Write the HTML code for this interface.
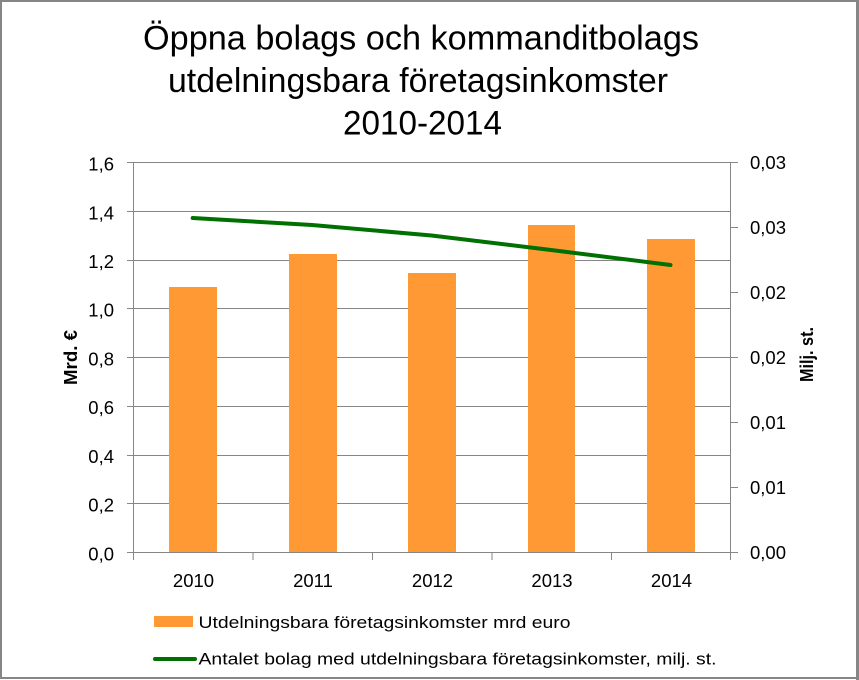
<!DOCTYPE html>
<html><head><meta charset="utf-8"><style>
html,body{margin:0;padding:0;background:#fff;}
svg{display:block;}
text{font-family:"Liberation Sans",Arial,sans-serif;fill:#000;}
</style></head><body>
<svg width="859" height="680" viewBox="0 0 859 680" xmlns="http://www.w3.org/2000/svg">
<rect x="0" y="0" width="859" height="680" fill="#fff"/>
<!-- outer border -->
<rect x="1" y="1" width="856" height="677" fill="none" stroke="#868686" stroke-width="2"/>
<line x1="857.5" y1="0" x2="857.5" y2="680" stroke="#868686" stroke-width="3"/>

<!-- title -->
<text x="143" y="49.5" font-size="34" textLength="556" lengthAdjust="spacingAndGlyphs">Öppna bolags och kommanditbolags</text>
<text x="168" y="92" font-size="34" textLength="500" lengthAdjust="spacingAndGlyphs">utdelningsbara företagsinkomster</text>
<text x="343" y="134.5" font-size="34" textLength="159" lengthAdjust="spacingAndGlyphs">2010-2014</text>

<!-- gridlines -->
<g stroke="#868686" stroke-width="1">
<line x1="127" y1="162.5" x2="731" y2="162.5"/>
<line x1="127" y1="211.5" x2="731" y2="211.5"/>
<line x1="127" y1="260.5" x2="731" y2="260.5"/>
<line x1="127" y1="308.5" x2="731" y2="308.5"/>
<line x1="127" y1="357.5" x2="731" y2="357.5"/>
<line x1="127" y1="406.5" x2="731" y2="406.5"/>
<line x1="127" y1="455.5" x2="731" y2="455.5"/>
<line x1="127" y1="503.5" x2="731" y2="503.5"/>
</g>

<!-- bars -->
<g fill="#ff9933">
<rect x="169" y="287" width="48" height="266"/>
<rect x="289" y="254" width="48" height="299"/>
<rect x="408" y="273" width="48" height="280"/>
<rect x="528" y="225" width="47" height="328"/>
<rect x="647" y="239" width="48" height="314"/>
</g>

<!-- axes -->
<g stroke="#868686" stroke-width="1">
<line x1="133.5" y1="162" x2="133.5" y2="560"/>
<line x1="730.5" y1="162" x2="730.5" y2="560"/>
<line x1="127" y1="552.5" x2="731" y2="552.5"/>
<line x1="253" y1="553" x2="253" y2="560"/>
<line x1="372.5" y1="553" x2="372.5" y2="560"/>
<line x1="492" y1="553" x2="492" y2="560"/>
<line x1="611.5" y1="553" x2="611.5" y2="560"/>
<line x1="730" y1="162.5" x2="738" y2="162.5"/>
<line x1="730" y1="227.5" x2="738" y2="227.5"/>
<line x1="730" y1="292.5" x2="738" y2="292.5"/>
<line x1="730" y1="357.5" x2="738" y2="357.5"/>
<line x1="730" y1="422.5" x2="738" y2="422.5"/>
<line x1="730" y1="487.5" x2="738" y2="487.5"/>
<line x1="730" y1="552.5" x2="738" y2="552.5"/>
</g>

<!-- line series -->
<polyline points="192.7,218 312,225 431.5,235.5 551,250 670.5,265" fill="none" stroke="#007000" stroke-width="4" stroke-linecap="round" stroke-linejoin="round"/>

<!-- left tick labels -->
<g font-size="18.5" text-anchor="end">
<text x="114" y="170.5">1,6</text>
<text x="114" y="219.5">1,4</text>
<text x="114" y="268">1,2</text>
<text x="114" y="316.5">1,0</text>
<text x="114" y="365.5">0,8</text>
<text x="114" y="414">0,6</text>
<text x="114" y="463">0,4</text>
<text x="114" y="511.5">0,2</text>
<text x="114" y="560.5">0,0</text>
</g>

<!-- right tick labels -->
<g font-size="18.5">
<text x="750" y="169">0,03</text>
<text x="750" y="234">0,03</text>
<text x="750" y="299">0,02</text>
<text x="750" y="364">0,02</text>
<text x="750" y="429">0,01</text>
<text x="750" y="494">0,01</text>
<text x="750" y="559">0,00</text>
</g>

<!-- x labels -->
<g font-size="18.5" text-anchor="middle">
<text x="193.5" y="587">2010</text>
<text x="313" y="587">2011</text>
<text x="432.5" y="587">2012</text>
<text x="552" y="587">2013</text>
<text x="671.5" y="587">2014</text>
</g>

<!-- axis titles -->
<text transform="translate(77,385) rotate(-90)" font-size="18" font-weight="bold" textLength="55" lengthAdjust="spacingAndGlyphs">Mrd. €</text>
<text transform="translate(813,382) rotate(-90)" font-size="18" font-weight="bold" textLength="55" lengthAdjust="spacingAndGlyphs">Milj. st.</text>

<!-- legend -->
<rect x="154" y="616" width="39" height="11" fill="#ff9933"/>
<text x="198.5" y="628" font-size="17" textLength="372" lengthAdjust="spacingAndGlyphs">Utdelningsbara företagsinkomster mrd euro</text>
<line x1="155" y1="659" x2="195" y2="659" stroke="#007000" stroke-width="4" stroke-linecap="round"/>
<text x="198.5" y="664.5" font-size="17" textLength="518" lengthAdjust="spacingAndGlyphs">Antalet bolag med utdelningsbara företagsinkomster, milj. st.</text>
</svg>
</body></html>
